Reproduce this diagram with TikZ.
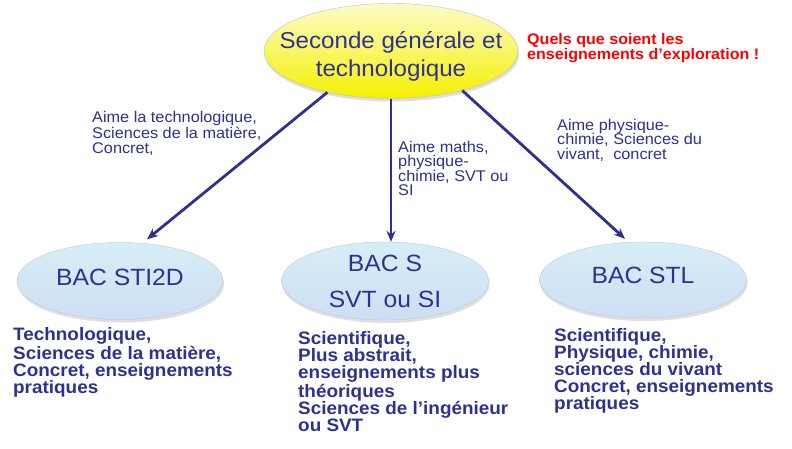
\documentclass[tikz,border=0pt]{standalone}
\usepackage{fontspec}
\setmainfont{Liberation Sans}[FakeStretch=1.05]
\usetikzlibrary{arrows.meta,shapes.geometric,shadows}
\definecolor{txtblue}{RGB}{46,49,146}
\definecolor{txtred}{RGB}{255,0,0}
\definecolor{yeltop}{RGB}{252,252,200}
\definecolor{yelmid}{RGB}{255,255,40}
\definecolor{yelbot}{RGB}{245,240,0}
\definecolor{bluetop}{RGB}{214,238,245}
\definecolor{bluemid}{RGB}{182,218,232}
\definecolor{bluebot}{RGB}{206,222,244}
\tikzset{
  yellowball/.style={ellipse, draw=black!25, line width=0.4pt, top color=yeltop, middle color=yelmid, bottom color=yelbot, shading=axis,
    drop shadow={opacity=0.25, shadow xshift=1pt, shadow yshift=-3pt}},
  blueball/.style={ellipse, draw=cyan!30!gray!50, line width=0.4pt, top color=bluetop, middle color=bluemid, bottom color=bluebot, shading=axis,
    minimum width=206pt, minimum height=77pt,
    drop shadow={opacity=0.25, shadow xshift=1pt, shadow yshift=-3pt}},
  arr/.style={draw=txtblue, line width=2.8pt, -{Stealth[length=11pt, width=9pt]}},
  lbl/.style={align=left, anchor=base west, inner sep=0pt, text=txtblue, font=\fontsize{15.5}{14.5}\selectfont},
  desc/.style={align=left, anchor=base west, inner sep=0pt, text=txtblue, font=\bfseries\fontsize{18}{17}\selectfont},
  big/.style={anchor=base, inner sep=0pt, text=txtblue, font=\fontsize{23.5}{28}\selectfont, align=center}
}
\begin{document}
\begin{tikzpicture}[x=1pt,y=-1pt]
\fill[white] (0,0) rectangle (792,448);
\useasboundingbox (0,0) rectangle (792,448);

% top ellipse
\node[yellowball, minimum width=254pt, minimum height=95pt] (top) at (391,51) {};
\node[big, font=\fontsize{23}{28}\selectfont] (toptext) at (391,76) {Seconde générale et\\technologique};

% red note
\node[align=left, anchor=base west, inner sep=0pt, text=txtred, font=\bfseries\fontsize{15.3}{15}\selectfont] (note) at (527,59) {Quels que soient les\\enseignements d’exploration !};

% bottom ellipses
\node[blueball] (sti) at (120,281) {};
\node[big] (stitext) at (120,285) {BAC STI2D};
\node[blueball, minimum width=207pt, minimum height=78pt] (bs) at (385,281) {};
\node[big] (bstext1) at (385,271) {BAC S};
\node[big] (bstext2) at (385,307) {SVT ou SI};
\node[blueball, minimum width=207pt, minimum height=76pt] (stl) at (643,280) {};
\node[big] (stltext) at (643,283) {BAC STL};

% arrows
\draw[arr] (top.213) -- ([xshift=27pt,yshift=3pt]sti.north);
\draw[arr] (top.south) -- (top.south |- bs.north);
\draw[arr] (top.-29) -- ([xshift=-18pt,yshift=3pt]stl.north);

% arrow labels
\node[lbl] (l1) at (92,153) {Aime la technologique,\\Sciences de la matière,\\Concret,};
\node[lbl] (l2) at (398,195.5) {Aime maths,\\physique-\\chimie, SVT ou\\SI};
\node[lbl] (l3) at (557,159) {Aime physique-\\chimie, Sciences du\\vivant, \ concret};

% descriptions
\node[desc] (d1) at (13,393) {Technologique,\\Sciences de la matière,\\Concret, enseignements\\pratiques};
\node[desc] (d2) at (298,431) {Scientifique,\\Plus abstrait,\\enseignements plus\\théoriques\\Sciences de l’ingénieur\\ou SVT};
\node[desc] (d3) at (554,409) {Scientifique,\\Physique, chimie,\\sciences du vivant\\Concret, enseignements\\pratiques};
\end{tikzpicture}
\end{document}
